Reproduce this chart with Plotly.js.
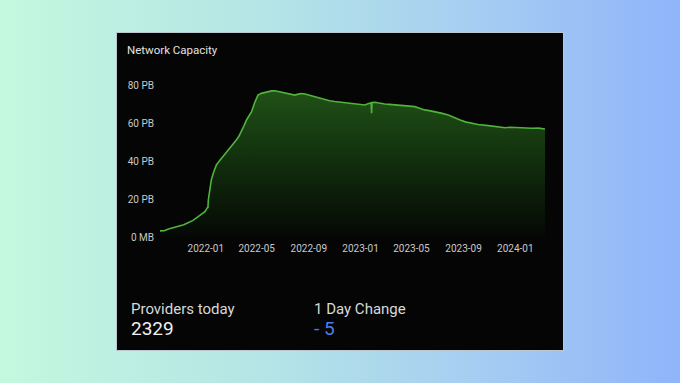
<!DOCTYPE html>
<html>
<head>
<meta charset="utf-8">
<script src="https://cdn.plot.ly/plotly-3.0.1.min.js"></script>
<style>
  html, body { margin: 0; padding: 0; width: 680px; height: 383px; overflow: hidden; }
  body { background: linear-gradient(90deg, #c4f8de 0%, #b4e4e6 40%, #a6cdf2 70%, #90b4fa 100%); position: relative; }
  #card { position: absolute; left: 116px; top: 32px; width: 446px; height: 317px; background: #050505; border: 1px solid #b9c9cf; }
  #chart { position: absolute; left: 0; top: 0; width: 680px; height: 383px; }
</style>
</head>
<body>
<div id="card"></div>
<div id="chart"></div>
<script>
// ---- data ----
const dates = [
  "2021-09-15","2021-09-25","2021-10-05","2021-10-20","2021-11-01","2021-11-10","2021-11-20",
  "2021-12-01","2021-12-14","2021-12-22","2021-12-30","2022-01-03","2022-01-05","2022-01-06",
  "2022-01-07","2022-01-10","2022-01-14","2022-01-20","2022-01-26","2022-02-01","2022-02-07",
  "2022-02-16","2022-02-26","2022-03-05","2022-03-14","2022-03-20","2022-03-26","2022-04-01",
  "2022-04-07","2022-04-13","2022-04-19","2022-04-26","2022-05-04","2022-05-12","2022-05-20",
  "2022-05-28","2022-06-05","2022-06-13","2022-06-20","2022-06-28","2022-07-06","2022-07-14",
  "2022-07-22","2022-07-30","2022-08-07","2022-08-15","2022-08-23","2022-08-31","2022-09-07",
  "2022-09-15","2022-09-25","2022-10-09","2022-10-20","2022-11-01","2022-11-15","2022-12-03",
  "2022-12-20","2023-01-11","2023-01-20","2023-01-26","2023-01-27","2023-01-28","2023-02-04",
  "2023-02-15","2023-02-27","2023-03-10","2023-03-23","2023-04-05","2023-04-20","2023-05-09",
  "2023-05-20","2023-06-01","2023-06-12","2023-06-25","2023-07-10","2023-07-27","2023-08-05",
  "2023-08-12","2023-08-24","2023-09-05","2023-09-20","2023-10-05","2023-10-29","2023-11-15",
  "2023-12-08","2023-12-20","2024-01-08","2024-01-20","2024-02-09","2024-02-25","2024-03-11"
];
const capacityPB = [
  3.2,3.3,4.2,5.1,5.9,6.4,7.5,
  8.6,10.7,12.0,13.3,14.8,15.6,15.2,
  19.5,24.5,30.0,34.5,37.9,39.8,41.4,
  44.0,46.7,48.8,51.0,53.0,55.4,58.5,
  61.6,63.8,66.0,70.5,74.7,75.6,76.1,
  76.4,76.9,77.0,76.7,76.3,75.9,75.5,
  75.0,74.7,75.2,75.5,75.3,74.8,74.3,
  73.9,73.0,72.1,71.7,71.3,71.0,70.4,
  69.9,69.5,70.3,70.6,65.1,70.8,70.9,
  70.4,70.0,69.8,69.5,69.1,69.0,68.6,
  67.8,66.9,66.5,66.0,65.2,64.2,63.3,
  62.5,61.6,60.6,59.8,59.2,58.6,58.0,
  57.5,57.8,57.5,57.7,57.2,57.3,56.8
];
const yTickVals = [0, 20, 40, 60, 80];
const yTickText = ["0 MB", "20 PB", "40 PB", "60 PB", "80 PB"];
const xTickVals = ["2022-01-01","2022-05-01","2022-09-01","2023-01-01","2023-05-01","2023-09-01","2024-01-01"];
const xTickText = ["2022-01","2022-05","2022-09","2023-01","2023-05","2023-09","2024-01"];
const chartTitle = "Network Capacity";
const providersLabel = "Providers today";
const providersValue = "2329";
const changeLabel = "1 Day Change";
const changeValue = "- 5";

// ---- layout geometry ----
const W = 680, H = 383, L = 160, R = 135, T = 85, B = 146;
const px2x = p => (p - L) / (W - L - R);
const py2y = p => (H - B - p) / (H - T - B);
const FONT = "Roboto, Inter, sans-serif";

const trace = {
  x: dates, y: capacityPB, type: "scatter", mode: "lines",
  line: { color: "#4fb33c", width: 1.6 },
  fill: "tozeroy",
  fillgradient: { type: "vertical", start: 0, stop: 78,
    colorscale: [[0, "rgba(5,8,5,1)"], [0.5, "rgba(17,45,13,1)"], [1, "rgba(32,82,23,1)"]] },
  hoverinfo: "skip"
};

const layout = {
  width: W, height: H,
  margin: { l: L, r: R, t: T, b: B, pad: 0 },
  paper_bgcolor: "rgba(0,0,0,0)", plot_bgcolor: "rgba(0,0,0,0)",
  showlegend: false,
  title: { text: chartTitle, xref: "container", yref: "container", x: 127 / W, xanchor: "left",
           y: 1 - 50 / H, yanchor: "middle", font: { family: FONT, size: 11.5, color: "#e2e2e2" } },
  xaxis: { type: "date", range: [dates[0], dates[dates.length - 1]], showgrid: false, zeroline: false,
           showline: false, tickvals: xTickVals, ticktext: xTickText, ticks: "",
           tickfont: { family: FONT, size: 10, color: "#c9c9c9" }, ticklabelstandoff: 4 },
  yaxis: { range: [0, 80], showgrid: false, zeroline: false, showline: false,
           tickvals: yTickVals, ticktext: yTickText, ticks: "",
           tickfont: { family: FONT, size: 10, color: "#c9c9c9" }, ticklabelstandoff: 5 },
  annotations: [
    { text: providersLabel, xref: "paper", yref: "paper", x: px2x(129), y: py2y(309), xanchor: "left", yanchor: "middle",
      showarrow: false, font: { family: FONT, size: 15, color: "#d8d8d8" } },
    { text: providersValue, xref: "paper", yref: "paper", x: px2x(129), y: py2y(328), xanchor: "left", yanchor: "middle",
      showarrow: false, font: { family: FONT, size: 19, color: "#f0f0f0" } },
    { text: changeLabel, xref: "paper", yref: "paper", x: px2x(312), y: py2y(309), xanchor: "left", yanchor: "middle",
      showarrow: false, font: { family: FONT, size: 15, color: "#d8d8d8" } },
    { text: changeValue, xref: "paper", yref: "paper", x: px2x(312), y: py2y(328), xanchor: "left", yanchor: "middle",
      showarrow: false, font: { family: FONT, size: 19, color: "#4b7fe6" } }
  ]
};

Plotly.newPlot("chart", [trace], layout, { staticPlot: true, displayModeBar: false });
</script>
</body>
</html>
